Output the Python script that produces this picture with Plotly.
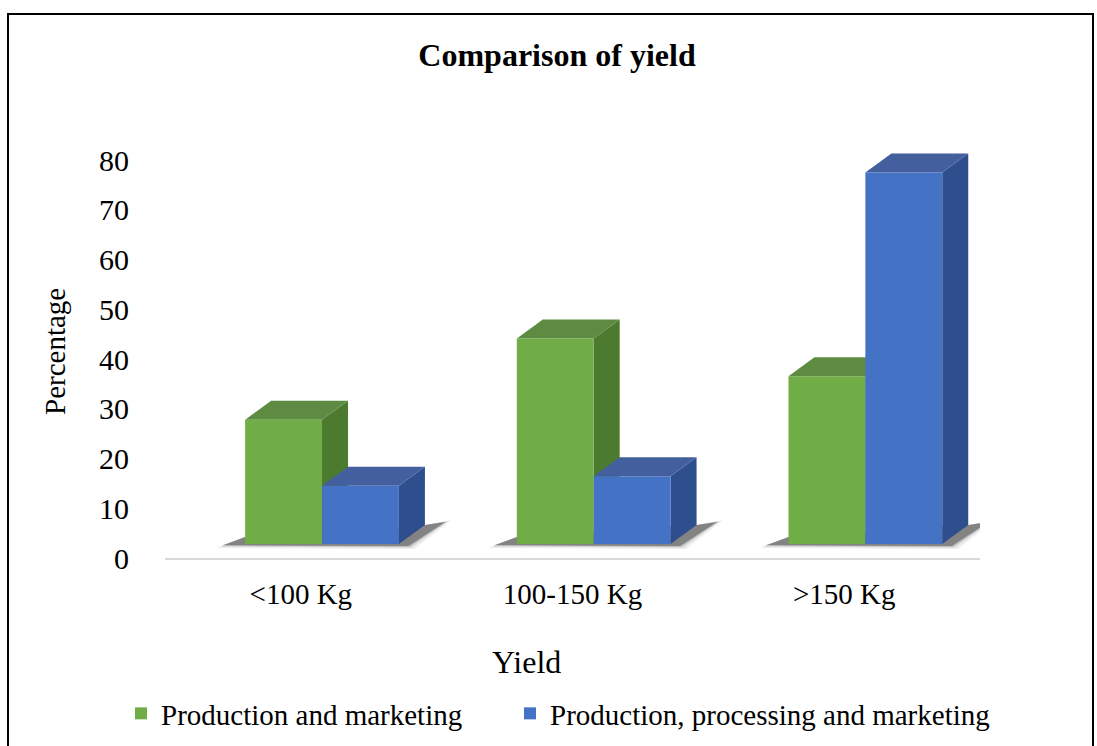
import plotly.graph_objects as go

# ---- data -------------------------------------------------------------
categories = ["<100 Kg", "100-150 Kg", ">150 Kg"]
series_names = ["Production and marketing", "Production, processing and marketing"]
prod_marketing = [25.0, 41.3, 33.7]
prod_processing_marketing = [11.7, 13.6, 74.7]
y_ticks = [0, 10, 20, 30, 40, 50, 60, 70, 80]

# ---- geometry of the canvas / plot area -------------------------------
W, H = 1097, 746
M_L, M_R, M_T, M_B = 165, 117, 120, 188
PLOT_W = W - M_L - M_R
PLOT_H = H - M_T - M_B
X_RANGE = [-0.5, 2.5]
Y_RANGE = [-2.81, 85.23]

px_per_x = PLOT_W / (X_RANGE[1] - X_RANGE[0])
px_per_y = PLOT_H / (Y_RANGE[1] - Y_RANGE[0])


def px_x(p):
    return p / px_per_x


def px_y(p):
    return p / px_per_y


# pseudo-3D depth of every box (pixels converted to axis units)
DX = px_x(26)
DY = px_y(19)

BAR_W = 0.283
OFFSETS = [-0.205, 0.078]

FRONT = ["#70AD47", "#4472C4"]
SIDE = ["#4C7B30", "#2E4E8E"]
TOP = ["#5E8B42", "#435F9E"]

FONT = "Liberation Serif"
xs = list(range(len(categories)))
series = [prod_marketing, prod_processing_marketing]
legends = ["legend", "legend2"]

fig = go.Figure()
for name, vals, off, col, lg in zip(series_names, series, OFFSETS, FRONT, legends):
    fig.add_trace(go.Bar(
        x=xs, y=vals, name=name, width=BAR_W, offset=off,
        marker=dict(color=col, line=dict(width=0)),
        legend=lg, hoverinfo="y+name",
    ))


def poly(pts):
    return "M " + " L ".join(f"{x:.5f},{y:.5f}" for x, y in pts) + " Z"


shapes = []
# soft floor shadow cast behind/right of each group of boxes
for i in xs:
    x0 = i + OFFSETS[0]
    for grow, col in ((6, "rgba(110,110,110,0.12)"), (3, "rgba(80,80,80,0.18)"),
                      (1, "rgba(60,60,60,0.25)"), (0, "rgba(40,40,40,0.30)")):
        shapes.append(dict(
            type="path", layer="below", line=dict(width=0), fillcolor=col,
            path=poly([
                (x0 + px_x(-22 - grow), px_y(-1 - grow * 0.5)),
                (x0 + px_x(163 + grow), px_y(-2 - grow * 0.5)),
                (x0 + px_x(200 + grow), px_y(22 + grow * 0.3)),
                (x0 + px_x(180), px_y(19)),
                (x0 + px_x(0), px_y(7)),
            ]),
        ))

# side and top faces, drawn series by series so the later boxes sit on top
for s, vals in enumerate(series):
    for i, v in zip(xs, vals):
        xl = i + OFFSETS[s]
        xr = xl + BAR_W
        shapes.append(dict(
            type="path", layer="below", line=dict(width=0), fillcolor=SIDE[s],
            path=poly([(xr, 0), (xr + DX, DY), (xr + DX, v + DY), (xr, v)]),
        ))
        shapes.append(dict(
            type="path", layer="below", line=dict(width=0), fillcolor=TOP[s],
            path=poly([(xl, v), (xl + DX, v + DY), (xr + DX, v + DY), (xr, v)]),
        ))

# outer frame
shapes.append(dict(
    type="rect", xref="paper", yref="paper", layer="above",
    x0=(8 - M_L) / PLOT_W, x1=(1093 - M_L) / PLOT_W,
    y0=(H - M_B - 760) / PLOT_H, y1=(H - M_B - 14) / PLOT_H,
    line=dict(color="black", width=2), fillcolor="rgba(0,0,0,0)",
))

legend_common = dict(
    orientation="h", xanchor="left", yanchor="top",
    y=(H - M_B - 688) / PLOT_H, font=dict(size=29),
    bgcolor="rgba(0,0,0,0)",
)

fig.update_layout(
    width=W, height=H,
    margin=dict(l=M_L, r=M_R, t=M_T, b=M_B, autoexpand=False),
    paper_bgcolor="white", plot_bgcolor="rgba(0,0,0,0)",
    font=dict(family=FONT, color="black", size=29),
    barmode="group",
    showlegend=True,
    title=dict(
        text="Comparison of yield", x=557 / W, xref="container", xanchor="center",
        y=1 - 55 / H, yref="container", yanchor="middle",
        font=dict(family=FONT, size=32, weight="bold", color="black"),
    ),
    xaxis=dict(
        range=X_RANGE, tickvals=xs, ticktext=categories,
        showgrid=False, zeroline=False, showline=True,
        linecolor="#D9D9D9", linewidth=2, ticks="",
        ticklabelstandoff=9, tickfont=dict(size=29),
    ),
    yaxis=dict(
        range=Y_RANGE, tickvals=y_ticks, ticktext=[str(t) for t in y_ticks],
        showgrid=False, zeroline=False, showline=False, ticks="",
        ticklabelshift=14, ticklabelstandoff=35, tickfont=dict(size=30),
    ),
    legend=dict(legend_common, x=(121 - M_L) / PLOT_W),
    legend2=dict(legend_common, x=(510 - M_L) / PLOT_W),
    shapes=shapes,
    annotations=[
        dict(text="Percentage", xref="paper", yref="paper",
             x=(55 - M_L) / PLOT_W, y=(H - M_B - 352) / PLOT_H,
             textangle=-90, showarrow=False, font=dict(size=29),
             xanchor="center", yanchor="middle"),
        dict(text="Yield", xref="paper", yref="paper",
             x=(526 - M_L) / PLOT_W, y=(H - M_B - 662) / PLOT_H,
             showarrow=False, font=dict(size=32),
             xanchor="center", yanchor="middle"),
    ],
)

fig.write_html("out.html")
